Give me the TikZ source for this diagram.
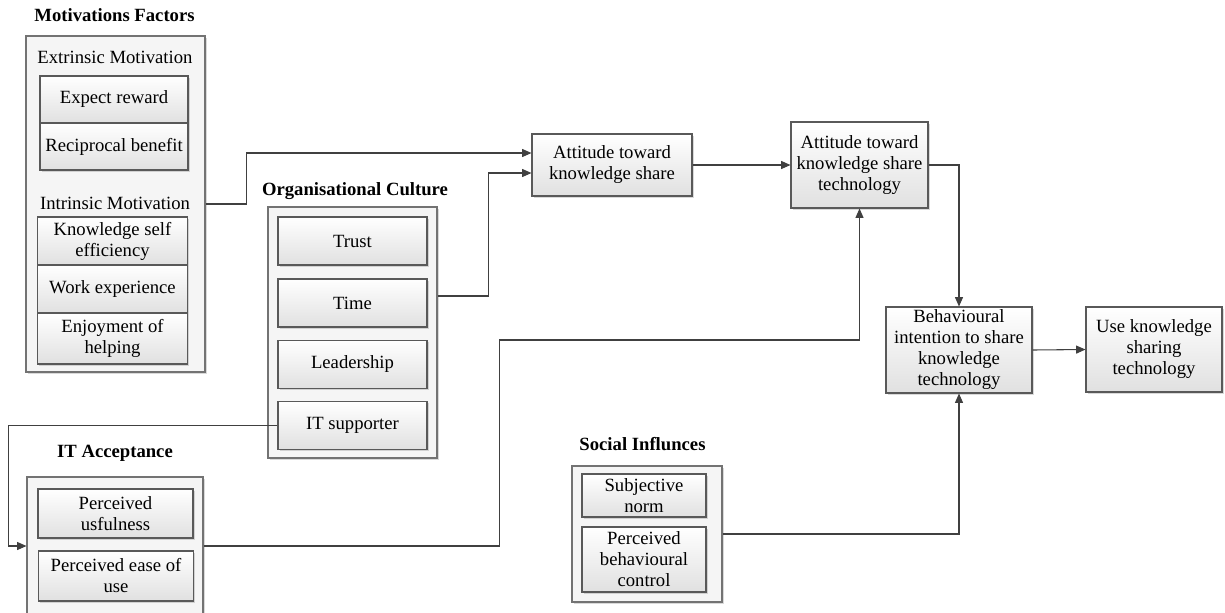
\documentclass[tikz,border=0pt]{standalone}
\usepackage{fontspec}
\setmainfont{Liberation Serif}
\usetikzlibrary{arrows.meta,shadows}

\begin{document}
\begin{tikzpicture}[x=0.75pt,y=-0.75pt,
  font=\fontsize{14}{15.75}\selectfont,
  line width=0.8pt,
  >={Triangle[length=7pt,width=6pt]},
  wh/.style 2 args={minimum width=#1*0.75pt,minimum height=#2*0.75pt},
  box/.style={draw=black!65,top color=white,bottom color=black!12,align=center,inner sep=1pt,
    drop shadow={shadow xshift=1.2pt,shadow yshift=-1.2pt,opacity=0.3}},
  group/.style={draw=black!55,fill=black!4,inner sep=0pt,
    drop shadow={shadow xshift=1.2pt,shadow yshift=-1.2pt,opacity=0.3}},
  head/.style={font=\fontsize{14}{15.75}\selectfont\bfseries}]
\useasboundingbox (0,0) rectangle (1225,612);

\node[head] (motT) at (114.5,15) {Motivations Factors};
\node[group,wh={179}{336}] (mot) at (115.5,204) {};
\node (extr) at (115,57) {Extrinsic Motivation};
\node[box,wh={148}{47}] (reward) at (114,99.5) {Expect reward};
\node[box,wh={148}{47}] (recip) at (114,146.5) {Reciprocal benefit};
\node (intr) at (115,203) {Intrinsic Motivation};
\node[box,wh={150}{48}] (kse) at (112.5,241) {Knowledge self\\efficiency};
\node[box,wh={150}{48}] (work) at (112.5,289) {Work experience};
\node[box,wh={150}{51}] (enjoy) at (112.5,338.5) {Enjoyment of\\helping};

\node[head] (orgT) at (355,191) {Organisational Culture};
\node[group,wh={169}{251}] (org) at (352.5,332.5) {};
\node[box,wh={149}{48}] (trust) at (352.5,241) {Trust};
\node[box,wh={149}{48}] (time) at (352.5,303) {Time};
\node[box,wh={149}{48}] (lead) at (352.5,364.5) {Leadership};
\node[box,wh={149}{48}] (itsup) at (352.5,425.5) {IT supporter};

\node[head] (itaT) at (115,453) {IT Acceptance};
\node[group,wh={176}{138}] (ita) at (115,546) {};
\node[box,wh={155}{49}] (useful) at (115.5,513.5) {Perceived\\usfulness};
\node[box,wh={155}{50}] (ease) at (116,576) {Perceived ease of\\use};

\node[head] (socT) at (642.5,444) {Social Influnces};
\node[group,wh={150}{136}] (soc) at (647,534) {};
\node[box,wh={124}{43}] (subj) at (644,495.5) {Subjective\\norm};
\node[box,wh={124}{65}] (pbc) at (644,559.5) {Perceived\\behavioural\\control};

\node[box,wh={160}{62}] (att) at (612,165) {Attitude toward\\knowledge share};
\node[box,wh={137}{86}] (atkst) at (859.5,165) {Attitude toward\\knowledge share\\technology};
\node[box,wh={146}{86}] (beh) at (959,350) {Behavioural\\intention to share\\knowledge\\technology};
\node[box,wh={136}{85}] (use) at (1154,349.5) {Use knowledge\\sharing\\technology};

\begin{scope}[draw=black!75]
\draw[->] (mot.east) -- ++(41,0) |- ([yshift=9pt]att.west);
\draw[->] (org.east |- time.east) ++(0,-7) -- ++(51,0) |- ([yshift=-6pt]att.west);
\draw[->] (itsup.west) -- ++(-269,0) |- (ita.west);
\draw[->] (ita.east) -- ++(296,0) -- ++(0,-206) -| (atkst.south);
\draw[->] (att.east) -- (atkst.west);
\draw[->] (atkst.east) -| (beh.north);
\draw[->] (soc.east) -| (beh.south);
\draw[->] (beh.east) -- (use.west);
\end{scope}
\end{tikzpicture}
\end{document}
